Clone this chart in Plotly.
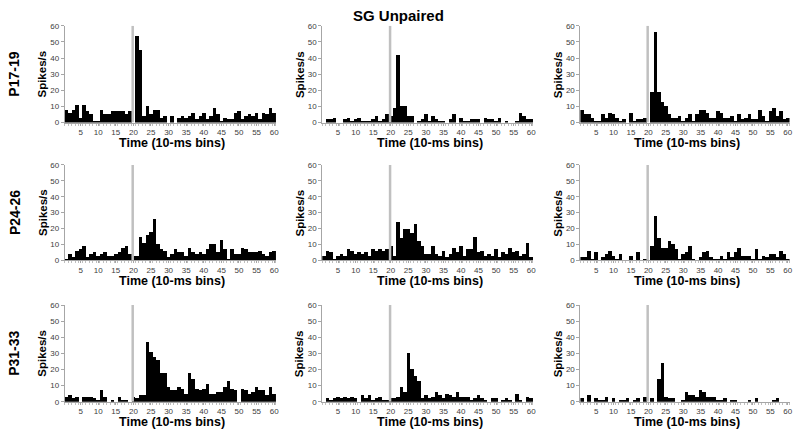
import plotly.graph_objects as go

bins = list(range(1, 61))

p17_a = [8, 6, 8, 11, 3, 11, 7, 5, 1, 1, 8, 5, 5, 7, 7, 7, 7, 5, 7, 0,
         54, 45, 4, 10, 5, 8, 8, 3, 4, 0, 4, 0, 3, 4, 3, 4, 6, 2, 4, 6,
         2, 4, 9, 5, 1, 3, 2, 2, 6, 7, 2, 4, 5, 4, 6, 2, 6, 5, 9, 6]
p17_b = [0, 2, 2, 3, 0, 0, 2, 3, 1, 2, 3, 1, 1, 1, 2, 4, 1, 2, 5, 4,
         9, 42, 10, 10, 4, 4, 0, 1, 2, 5, 1, 4, 2, 1, 1, 0, 2, 5, 0, 3,
         1, 1, 2, 2, 2, 0, 3, 2, 2, 1, 3, 0, 1, 0, 0, 1, 6, 4, 2, 2]
p17_c = [8, 5, 5, 3, 1, 1, 5, 3, 6, 5, 3, 1, 2, 0, 6, 1, 2, 2, 3, 0,
         19, 56, 19, 13, 10, 5, 3, 3, 4, 1, 3, 5, 1, 5, 8, 8, 6, 3, 3, 7,
         6, 3, 3, 4, 1, 5, 2, 3, 5, 2, 2, 8, 4, 1, 7, 9, 4, 7, 2, 3]
p24_a = [1, 4, 2, 6, 7, 9, 2, 4, 5, 3, 4, 5, 3, 3, 4, 5, 8, 9, 4, 3,
         3, 15, 11, 16, 18, 26, 10, 7, 6, 2, 4, 7, 5, 5, 3, 8, 5, 4, 5, 4,
         7, 10, 10, 5, 13, 7, 1, 7, 4, 4, 8, 7, 5, 5, 5, 6, 4, 3, 5, 6]
p24_b = [3, 6, 5, 1, 3, 4, 3, 7, 6, 4, 5, 4, 5, 3, 7, 6, 7, 6, 7, 9,
         3, 24, 14, 20, 20, 17, 23, 12, 9, 4, 4, 9, 4, 3, 6, 2, 4, 8, 5, 9,
         3, 7, 7, 15, 5, 6, 3, 4, 3, 7, 2, 5, 4, 8, 5, 6, 3, 4, 11, 2]
p24_c = [2, 2, 6, 1, 5, 0, 2, 4, 6, 3, 1, 4, 0, 0, 3, 0, 5, 0, 1, 0,
         9, 28, 14, 8, 8, 12, 10, 7, 1, 4, 5, 9, 1, 0, 2, 5, 6, 2, 1, 1,
         3, 1, 5, 2, 5, 8, 3, 3, 3, 1, 7, 1, 3, 2, 4, 4, 2, 6, 4, 1]
p31_a = [3, 4, 2, 3, 0, 3, 3, 3, 2, 1, 7, 3, 0, 1, 0, 3, 1, 1, 0, 3,
         2, 4, 4, 37, 31, 28, 26, 18, 18, 9, 7, 7, 9, 8, 5, 18, 14, 8, 7, 8,
         11, 5, 5, 6, 6, 9, 13, 8, 7, 0, 8, 7, 5, 6, 9, 7, 7, 4, 9, 5]
p31_b = [0, 2, 1, 2, 3, 2, 3, 2, 3, 2, 0, 4, 2, 4, 1, 2, 3, 1, 1, 2,
         2, 3, 9, 6, 30, 20, 16, 13, 2, 4, 2, 3, 6, 4, 2, 5, 4, 3, 6, 3,
         3, 3, 1, 2, 4, 2, 1, 0, 2, 2, 0, 1, 2, 1, 0, 5, 1, 0, 3, 2]
p31_c = [2, 0, 4, 0, 2, 1, 1, 3, 0, 2, 0, 1, 1, 2, 0, 1, 2, 0, 3, 0,
         2, 0, 14, 24, 3, 2, 2, 0, 0, 1, 6, 4, 4, 3, 7, 6, 3, 3, 3, 1,
         1, 2, 0, 1, 1, 0, 0, 0, 1, 0, 2, 0, 0, 0, 0, 1, 2, 0, 0, 0]

panels = [[p17_a, p17_b, p17_c], [p24_a, p24_b, p24_c], [p31_a, p31_b, p31_c]]
row_labels = ["P17-19", "P24-26", "P31-33"]
title = "SG Unpaired"
x_title = "Time (10-ms bins)"
y_title = "Spikes/s"
stim_bin = 19.8
y_ticks = [0, 10, 20, 30, 40, 50, 60]
x_ticks = [5, 10, 15, 20, 25, 30, 35, 40, 45, 50, 55, 60]

W, H = 800, 441
col_px = [(65, 277), (323.5, 535), (582.6, 792.5)]
row_px = [(22.3, 121), (164.3, 261.7), (307.3, 406)]
FONT = "Liberation Sans, Arial, sans-serif"

fig = go.Figure()
layout = {}
shapes = []
annotations = []
k = 0
for r in range(3):
    for c in range(3):
        k += 1
        xa = "x" if k == 1 else f"x{k}"
        ya = "y" if k == 1 else f"y{k}"
        fig.add_trace(go.Bar(x=bins, y=panels[r][c], width=1.0,
                             marker=dict(color="black", line=dict(width=0)),
                             xaxis=xa, yaxis=ya, showlegend=False))
        x0, x1 = col_px[c]
        yt, yb = row_px[r]
        layout["xaxis" if k == 1 else f"xaxis{k}"] = dict(
            domain=[x0 / W, x1 / W], range=[0.5, 60.5], anchor=ya,
            tickmode="array", tickvals=x_ticks, ticktext=[str(v) for v in x_ticks],
            ticks="outside", ticklen=2, tickcolor="#A6A6A6",
            minor=dict(ticks="outside", ticklen=2, dtick=1, tick0=0.5, tickcolor="#BFBFBF"),
            showline=True, linecolor="#A6A6A6", linewidth=1,
            showgrid=False, zeroline=False,
            tickfont=dict(size=8, color="#404040", family=FONT), fixedrange=True)
        layout["yaxis" if k == 1 else f"yaxis{k}"] = dict(
            domain=[1 - yb / H, 1 - yt / H], range=[0, 60], anchor=xa,
            tickmode="array", tickvals=y_ticks,
            ticks="outside", ticklen=3, tickcolor="#A6A6A6",
            showline=True, linecolor="#A6A6A6", linewidth=1,
            showgrid=False, zeroline=False,
            tickfont=dict(size=8, color="#404040", family=FONT), fixedrange=True)
        shapes.append(dict(type="line", xref=xa, yref=ya, x0=stim_bin, x1=stim_bin,
                           y0=0, y1=60, line=dict(color="#C0C0C0", width=2.5), layer="above"))
        annotations.append(dict(text=f"<b>{x_title}</b>", xref="paper", yref="paper",
                                x=((x0 + x1) / 2 + 2) / W, y=1 - (yb + 21) / H,
                                showarrow=False, xanchor="center", yanchor="middle",
                                font=dict(size=12.5, color="black", family=FONT)))
        annotations.append(dict(text=f"<b>{y_title}</b>", xref="paper", yref="paper",
                                x=(x0 - 22.5) / W, y=1 - ((yt + yb) / 2) / H, textangle=-90,
                                showarrow=False, xanchor="center", yanchor="middle",
                                font=dict(size=11.5, color="black", family=FONT)))
    yt, yb = row_px[r]
    annotations.append(dict(text=f"<b>{row_labels[r]}</b>", xref="paper", yref="paper",
                            x=14.5 / W, y=1 - ((yt + yb) / 2) / H, textangle=-90,
                            showarrow=False, xanchor="center", yanchor="middle",
                            font=dict(size=14, color="black", family=FONT)))

annotations.append(dict(text=f"<b>{title}</b>", xref="paper", yref="paper",
                        x=400 / W, y=1 - 12 / H, showarrow=False,
                        xanchor="center", yanchor="middle",
                        font=dict(size=15, color="black", family=FONT)))

fig.update_layout(width=W, height=H, margin=dict(l=0, r=0, t=0, b=0),
                  paper_bgcolor="white", plot_bgcolor="white",
                  bargap=0, shapes=shapes, annotations=annotations, **layout)
fig.write_html("out.html", config={"displayModeBar": False, "staticPlot": True},
               post_script="document.body.style.margin='0px';document.body.style.overflow='hidden';")
